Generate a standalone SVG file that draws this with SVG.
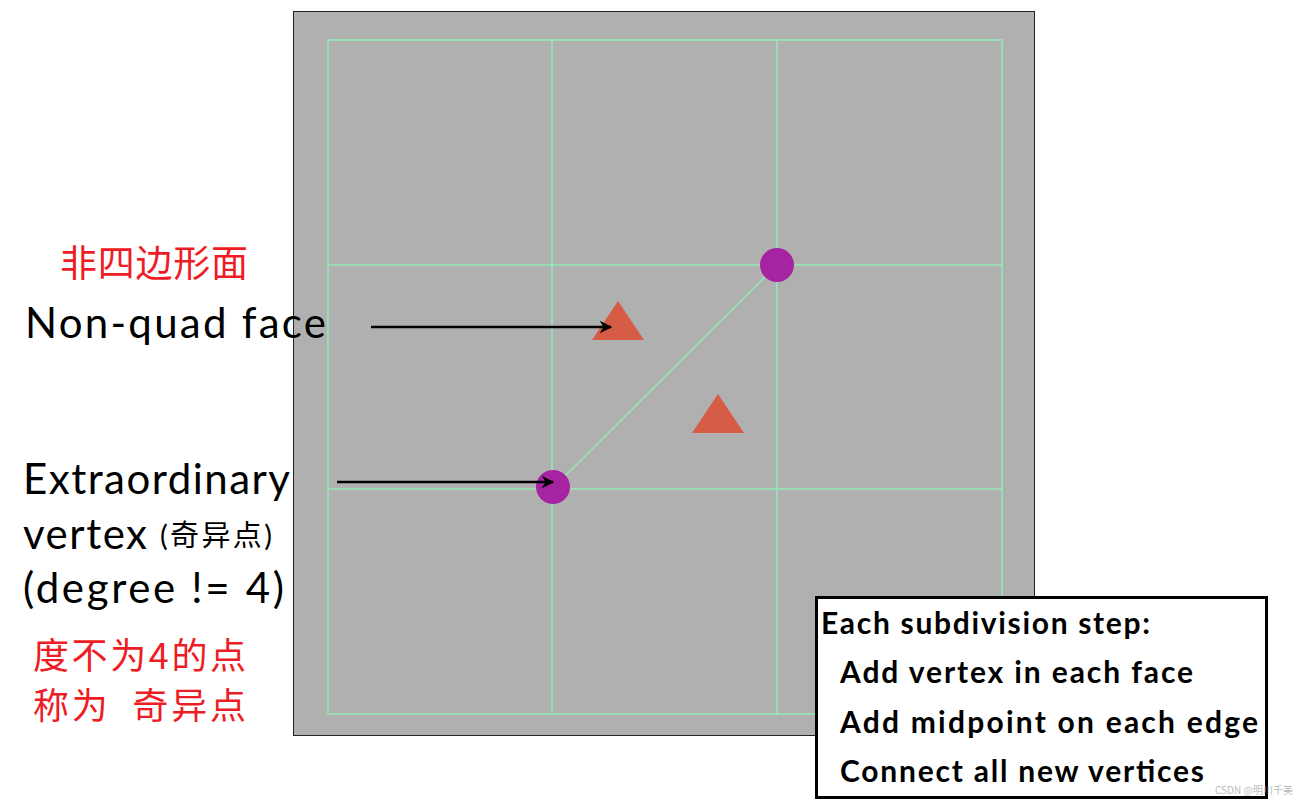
<svg xmlns="http://www.w3.org/2000/svg" width="1307" height="805" viewBox="0 0 1307 805">
<defs>
<style>
.grid{stroke:#93eab4;stroke-width:1.5;fill:none}
.lbl{font-family:Lato,"Noto Sans CJK SC",sans-serif;fill:#000}
.red{font-family:"Noto Sans CJK SC",sans-serif;fill:#ee1c25}
.bold{font-family:Lato,sans-serif;font-weight:bold;font-size:30px;fill:#000}
.tri{fill:#d65c46}
.vtx{fill:#a623a2}
.arr{stroke:#000;stroke-width:2.5;fill:none}
</style>
<marker id="ah" viewBox="0 0 10 10" refX="9" refY="5" markerWidth="5" markerHeight="5" orient="auto" markerUnits="strokeWidth">
<path d="M0,0 L10,5 L0,10 L3,5 Z" fill="#000"/>
</marker>
</defs>
<rect width="1307" height="805" fill="#fff"/>
<g id="panel">
<rect x="293.5" y="11.5" width="741" height="724" fill="#b0b0b0" stroke="#222" stroke-width="1"/>
<rect class="grid" x="328" y="40" width="674" height="674"/>
<line class="grid" x1="552" y1="40" x2="552" y2="714"/>
<line class="grid" x1="777" y1="40" x2="777" y2="714"/>
<line class="grid" x1="328" y1="265" x2="1002" y2="265"/>
<line class="grid" x1="328" y1="489" x2="1002" y2="489"/>
<line class="grid" x1="553" y1="488" x2="777" y2="265"/>
</g>
<g id="tri1"><polygon class="tri" points="618,301 644,340 592,340"/></g>
<g id="tri2"><polygon class="tri" points="718,394 744,433 692,433"/></g>
<g id="v1"><circle class="vtx" cx="777" cy="265" r="17"/></g>
<g id="v2"><circle class="vtx" cx="553" cy="487" r="17"/></g>
<g id="connectors">
<line class="arr" x1="371" y1="327" x2="611" y2="327" marker-end="url(#ah)"/>
<line class="arr" x1="337" y1="482" x2="553" y2="482" marker-end="url(#ah)"/>
</g>
<g id="label-nonquad">
<text class="red" x="60" y="277" font-size="37" textLength="188">非四边形面</text>
<text class="lbl" x="25" y="338" font-size="42" textLength="301">Non-quad face</text>
</g>
<g id="label-extra">
<text class="lbl" x="23" y="494" font-size="42" textLength="267">Extraordinary</text>
<text class="lbl" x="23" y="549" font-size="42" textLength="124">vertex</text>
<text class="lbl" x="160" y="546" font-size="29" textLength="112">(奇异点)</text>
<text class="lbl" x="23" y="603" font-size="42" textLength="261">(degree != 4)</text>
<text class="red" x="33" y="669" font-size="36" textLength="213">度不为4的点</text>
<text class="red" x="33" y="719" font-size="36" xml:space="preserve" textLength="213">称为  奇异点</text>
</g>
<g id="box">
<rect x="816.5" y="597.5" width="450" height="200" fill="#fff" stroke="#000" stroke-width="3"/>
<text class="bold" x="821" y="634" textLength="329">Each subdivision step:</text>
<text class="bold" x="840" y="683" textLength="353">Add vertex in each face</text>
<text class="bold" x="840" y="733" textLength="418">Add midpoint on each edge</text>
<text class="bold" x="840" y="782" textLength="364">Connect all new vertices</text>
</g>
<text x="1215" y="794" font-family="'Noto Sans CJK SC',sans-serif" font-size="10" fill="#bbb">CSDN @明川千美</text>
</svg>
